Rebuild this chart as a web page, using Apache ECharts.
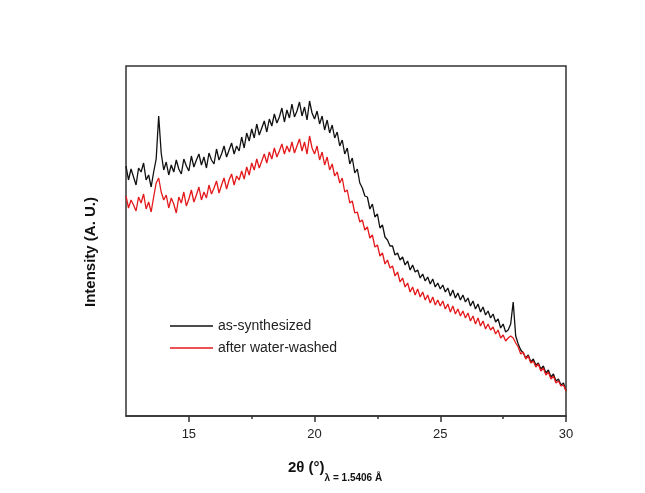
<!DOCTYPE html>
<html>
<head>
<meta charset="utf-8">
<script src="https://cdn.jsdelivr.net/npm/echarts@6/dist/echarts.min.js"></script>
<style>
  html, body { margin: 0; padding: 0; background: #fff; }
  #chart { width: 645px; height: 493px; }
</style>
</head>
<body>
<div id="chart"></div>
<script>
var chart = echarts.init(document.getElementById('chart'));

// scan range, 0.1 deg step
var startAngle = 12.5;
var stepAngle = 0.1;
var majorTicks = [15, 20, 25, 30];
var minorTicks = [17.5, 22.5, 27.5];

// as-synthesized (black), 12.5 .. 30.0
var asSynth = [
    250, 236, 247, 239, 231, 248, 244, 253, 236, 241, 229, 244,
    257, 300, 263, 246,
    254, 241, 251, 244, 256, 247, 242, 257, 250, 245,
    260, 249, 256, 262, 251, 259, 248, 263, 256, 252,
    267, 256, 262, 270, 259, 266, 273, 262, 270, 265,
    279, 268, 283, 275, 287, 278, 292, 281, 288, 295,
    284, 297, 290, 302, 293, 299, 308, 294, 306, 298,
    312, 299, 305, 314, 300, 309, 296, 315, 303, 297,
    305, 292, 300, 286, 296, 283, 291, 278, 284, 270,
    276, 262, 268, 252, 258, 243, 247, 233, 228, 220,
    219, 207, 212, 199, 202, 188, 191, 179, 176, 170,
    170, 161, 163, 156, 159, 151, 155, 146, 151, 144,
    146, 138, 142, 135, 139, 132, 137, 129, 133, 127,
    131, 124, 128, 120, 126, 118, 123, 116, 121, 114,
    118, 110, 115, 107, 112, 104, 109, 101, 105, 98,
    102, 94, 97, 88, 92, 84, 86,
    92, 114, 80,
    72, 66, 63, 58, 61, 54, 57, 51, 53, 47,
    50, 43, 46, 39, 42, 35, 37, 31, 33, 25
];

// after water-washed (red), 12.5 .. 30.0
var washed = [
    220, 208, 216, 211, 205, 219, 213, 222, 207, 214, 204, 219,
    233, 238, 224, 216,
    221, 208, 218, 212, 203, 219, 213, 224, 210, 217,
    226, 214, 221, 229, 216, 224, 218, 231, 222, 228,
    235, 223, 231, 238, 227, 236, 242, 231, 240, 236,
    245, 237, 249, 241, 253, 246, 257, 248, 255, 262,
    253, 264, 257, 268, 259, 265, 272, 262, 270, 264,
    274, 263, 270, 277, 265, 274, 262, 280, 268, 262,
    270, 256, 264, 251, 259, 246, 252, 240, 244, 233,
    238, 224, 226, 213, 215, 203, 204, 194, 196, 186,
    189, 178, 181, 169, 171, 160, 163, 152, 156, 148,
    150, 140, 144, 134, 138, 129, 133, 124, 129, 121,
    127, 119, 124, 116, 121, 113, 119, 111, 116, 110,
    115, 107, 112, 104, 110, 102, 107, 100, 105, 98,
    103, 95, 100, 92, 98, 90, 95, 87, 92, 86,
    89, 82, 86, 78, 81, 75, 78,
    80, 78, 73,
    69, 62, 64, 57, 60, 53, 55, 49, 52, 45,
    48, 41, 44, 37, 40, 33, 35, 30, 31, 25
];

function toPairs(values) {
    return values.map(function (v, i) {
        return [+(startAngle + i * stepAngle).toFixed(1), v];
    });
}

var fontName = 'Liberation Sans, Arial, sans-serif';

option = {
    animation: false,
    title: {
        left: 283,
        top: 453,
        text: '{a|2θ (°)}{b|λ = 1.5406 Å}',
        textStyle: {
            rich: {
                a: { fontFamily: fontName, fontSize: 15, fontWeight: 'bold', color: '#111', lineHeight: 20 },
                b: { fontFamily: fontName, fontSize: 10, fontWeight: 'bold', color: '#111', lineHeight: 20, verticalAlign: 'bottom', padding: [0, 0, -5, 0] }
            }
        }
    },
    graphic: [{
        type: 'text',
        x: 91,
        y: 252,
        rotation: Math.PI / 2,
        style: {
            text: 'Intensity (A. U.)',
            font: 'bold 15px Liberation Sans, Arial, sans-serif',
            fill: '#111',
            align: 'center',
            verticalAlign: 'middle'
        }
    }],
    legend: {
        orient: 'vertical',
        left: 165,
        top: 313,
        icon: 'rect',
        itemWidth: 43,
        itemHeight: 1.5,
        itemGap: 6,
        textStyle: {
            fontFamily: fontName,
            fontSize: 14,
            color: '#222',
            lineHeight: 16
        },
        data: ['as-synthesized', 'after water-washed']
    },
    grid: {
        left: 126,
        top: 66,
        width: 440,
        height: 350,
        show: true,
        borderColor: '#333',
        borderWidth: 1.5
    },
    xAxis: [{
        type: 'value',
        min: 12.5,
        max: 30,
        interval: 2.5,
        axisLine: { lineStyle: { color: '#333', width: 1.5 } },
        axisTick: {
            inside: false,
            length: 6,
            customValues: majorTicks,
            lineStyle: { color: '#333', width: 1.5 }
        },
        axisLabel: {
            customValues: majorTicks,
            margin: 12,
            fontFamily: fontName,
            fontSize: 13,
            color: '#222'
        },
        splitLine: { show: false }
    }, {
        type: 'value',
        min: 12.5,
        max: 30,
        interval: 2.5,
        position: 'bottom',
        axisLine: { show: false },
        axisTick: {
            inside: false,
            length: 3,
            customValues: minorTicks,
            lineStyle: { color: '#333', width: 1.5 }
        },
        axisLabel: { show: false },
        splitLine: { show: false }
    }],
    yAxis: {
        type: 'value',
        min: 0,
        max: 350,
        axisLine: { show: false },
        axisTick: { show: false },
        axisLabel: { show: false },
        splitLine: { show: false }
    },
    series: [{
        name: 'as-synthesized',
        type: 'line',
        showSymbol: false,
        color: '#111',
        lineStyle: { width: 1.3, color: '#111' },
        data: toPairs(asSynth)
    }, {
        name: 'after water-washed',
        type: 'line',
        showSymbol: false,
        color: '#e3191c',
        lineStyle: { width: 1.3, color: '#e3191c' },
        data: toPairs(washed)
    }]
};

chart.setOption(option);
</script>
</body>
</html>
